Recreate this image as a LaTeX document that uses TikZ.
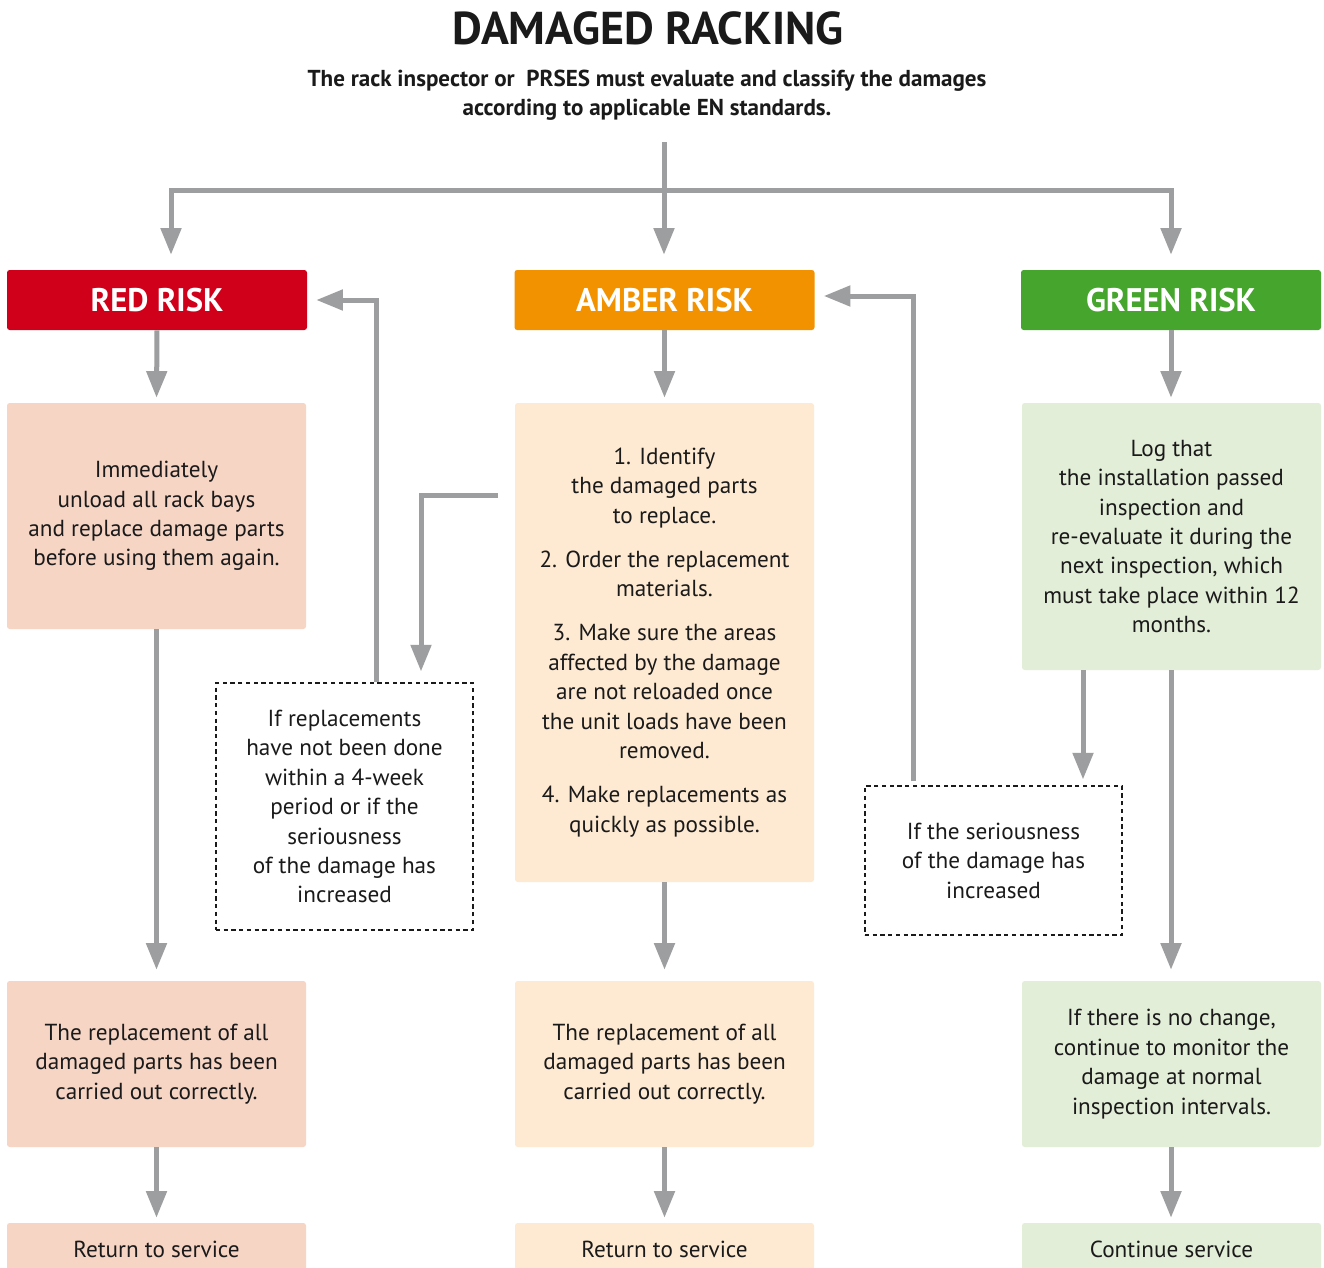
\documentclass[tikz,border=0pt]{standalone}
\usepackage{fontspec}
\setmainfont{PT Sans}
\usetikzlibrary{arrows.meta}
\definecolor{redH}{HTML}{D0001A}
\definecolor{amberH}{HTML}{F39200}
\definecolor{greenH}{HTML}{45A52D}
\definecolor{redL}{HTML}{F6D5C5}
\definecolor{amberL}{HTML}{FEEAD2}
\definecolor{greenL}{HTML}{E3EED8}
\definecolor{arrgray}{HTML}{9D9E9F}
\definecolor{txt}{HTML}{1A1A1A}
\begin{document}
\begin{tikzpicture}[x=0.75pt,y=-0.75pt,
  hdr/.style={rounded corners=2pt, minimum width=225pt, minimum height=45pt, inner sep=0pt,
    text=white, font=\bfseries\fontsize{24.5}{29}\selectfont},
  body/.style={rounded corners=2pt, minimum width=224.25pt, inner sep=0pt, align=center,
    text=txt, font=\fontsize{17.4}{22.1}\selectfont},
  dbox/.style={draw=txt, dashed, dash pattern=on 3.2pt off 2.6pt, line width=0.8pt,
    minimum width=192.75pt, inner sep=0pt, align=center, text=txt,
    font=\fontsize{17.4}{22.1}\selectfont},
  arr/.style={draw=arrgray, line width=3.75pt, -{Triangle[length=20pt,width=15pt]}},
  lnk/.style={draw=arrgray, line width=3.75pt}
]
\useasboundingbox[fill=white] (0,0) rectangle (1324,1267);

% title
\node[text=txt, font=\bfseries\fontsize{34.5}{40}\selectfont] (title) at (648,28) {DAMAGED RACKING};
\node[text=txt, align=center, font=\bfseries\fontsize{17.3}{22.1}\selectfont] (sub) at (647,95)
  {The rack inspector or\ \ PRSES must evaluate and classify the damages\\according to applicable EN standards.};

% headers
\node[hdr, fill=redH] (rH) at (157,300) {RED RISK};
\node[hdr, fill=amberH] (aH) at (664.5,300) {AMBER RISK};
\node[hdr, fill=greenH] (gH) at (1171,300) {GREEN RISK};

% first boxes
\node[body, fill=redL, minimum height=169.5pt] (r1) at (156.5,516)
  {Immediately\\unload all rack bays\\and replace damage parts\\before using them again.};
\node[body, fill=amberL, minimum height=359.25pt] (a1) at (664.5,642.5)
  {1. Identify\\the damaged parts\\to replace.\\[11pt]
   2. Order the replacement\\materials.\\[11pt]
   3. Make sure the areas\\affected by the damage\\are not reloaded once\\the unit loads have been\\removed.\\[11pt]
   4. Make replacements as\\quickly as possible.};
\node[body, fill=greenL, minimum height=200.25pt] (g1) at (1171.5,536.5)
  {Log that\\the installation passed\\inspection and\\re-evaluate it during the\\next inspection, which\\must take place within 12\\months.};

% dashed condition boxes
\node[dbox, minimum height=185.25pt] (dL) at (344.5,806.5)
  {If replacements\\have not been done\\within a 4-week\\period or if the\\seriousness\\of the damage has\\increased};
\node[dbox, minimum height=111.75pt] (dR) at (993.5,860.5)
  {If the seriousness\\of the damage has\\increased};

% second boxes
\node[body, fill=redL, minimum height=124.5pt] (r2) at (156.5,1064)
  {The replacement of all\\damaged parts has been\\carried out correctly.};
\node[body, fill=amberL, minimum height=124.5pt] (a2) at (664.5,1064)
  {The replacement of all\\damaged parts has been\\carried out correctly.};
\node[body, fill=greenL, minimum height=124.5pt] (g2) at (1171.5,1064)
  {If there is no change,\\continue to monitor the\\damage at normal\\inspection intervals.};

% third boxes
\node[body, fill=redL, minimum height=39pt] (r3) at (156.5,1249) {Return to service};
\node[body, fill=amberL, minimum height=39pt] (a3) at (664.5,1249) {Return to service};
\node[body, fill=greenL, minimum height=39pt] (g3) at (1171.5,1249) {Continue service};

% helper coordinates
\coordinate (top) at (664,142);
\coordinate (split) at (664,190);
\coordinate (rx) at (171,0);
\coordinate (gx) at (1171,0);
\coordinate (xl) at (376,0);
\coordinate (xm) at (421,0);
\coordinate (xr) at (913,0);
\coordinate (xg) at (1083,0);
\coordinate (yl) at (0,300);
\coordinate (yr) at (0,296);
\coordinate (aL) at (498,495);

% top distribution
\draw[arr, shorten >=11.25pt] (top) -- (top |- aH.north);
\draw[arr, shorten >=11.25pt] (split) -| (rx |- rH.north);
\draw[arr, shorten >=11.25pt] (split) -| (gx |- gH.north);

% header -> first boxes
\draw[arr, shorten >=3.75pt] (rH.south) -- (r1.north);
\draw[arr, shorten >=3.75pt] (aH.south) -- (a1.north);
\draw[arr, shorten >=3.75pt] (gx |- gH.south) -- (gx |- g1.north);

% first -> second boxes
\draw[arr, shorten >=8.25pt] (r1.south) -- (r2.north);
\draw[arr, shorten >=8.25pt] (a1.south) -- (a2.north);
\draw[arr, shorten >=8.25pt] (gx |- g1.south) -- (gx |- g2.north);

% second -> third boxes
\draw[arr, shorten >=3.75pt] (r2.south) -- (r3.north);
\draw[arr, shorten >=3.75pt] (a2.south) -- (a3.north);
\draw[arr, shorten >=3.75pt] (gx |- g2.south) -- (gx |- g3.north);

% escalation loops
\draw[arr, shorten >=6.75pt] (xl |- dL.north) |- (rH.east |- yl);
\draw[arr, shorten >=8.25pt] (aL) -| (xm |- dL.north);
\draw[arr, shorten >=4.5pt] (xg |- g1.south) -- (xg |- dR.north);
\draw[arr, shorten >=6.75pt] ([yshift=3pt]xr |- dR.north) |- (aH.east |- yr);
\end{tikzpicture}
\end{document}
